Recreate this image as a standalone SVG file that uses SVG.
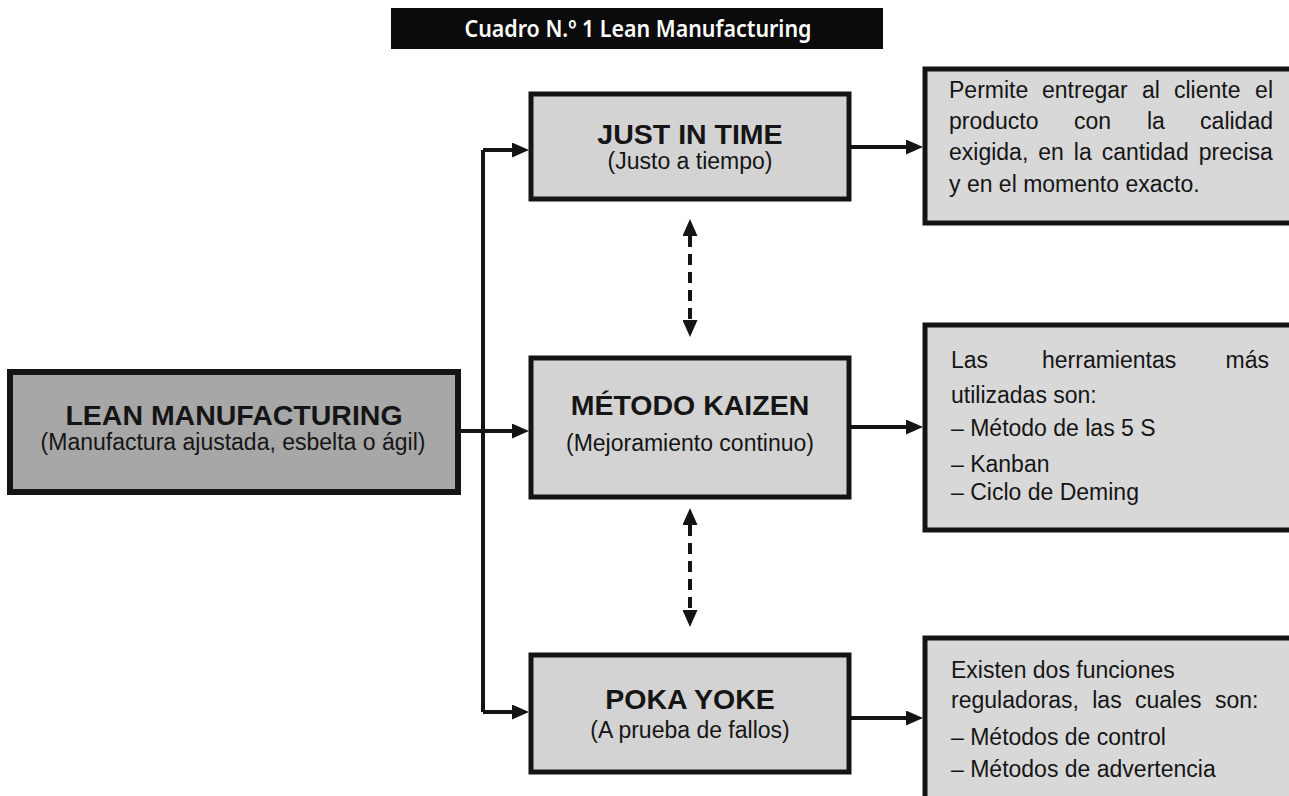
<svg xmlns="http://www.w3.org/2000/svg" width="1289" height="796" viewBox="0 0 1289 796">
  <style>
    .box { fill: #d3d3d3; stroke: #141414; stroke-width: 5; }
    .main { fill: #a7a7a7; stroke: #141414; stroke-width: 6; }
    .note { fill: #d8d8d8; stroke: #141414; stroke-width: 5; }
    .t { font-family: "Liberation Sans", Arial, sans-serif; fill: #151515; }
    .h { font-weight: bold; font-size: 28.5px; text-anchor: middle; }
    .s { font-size: 23px; text-anchor: middle; }
    .p { font-size: 23px; }
    .line { fill: none; stroke: #141414; stroke-width: 4; }
    .dash { fill: none; stroke: #141414; stroke-width: 4; stroke-dasharray: 11 7; }
  </style>
  <defs>
    <marker id="ah" markerUnits="userSpaceOnUse" markerWidth="17" markerHeight="15" refX="0" refY="7.5" orient="auto-start-reverse">
      <path d="M0,0 L17,7.5 L0,15 z" fill="#141414"/>
    </marker>
  </defs>
  <rect width="1289" height="796" fill="#ffffff"/>

  <g id="title">
    <rect x="391" y="8" width="492" height="41" fill="#0b0b0b"/>
    <text x="638" y="37" font-family="'Noto Sans', 'Open Sans', sans-serif" font-weight="600" font-size="24" fill="#ffffff" text-anchor="middle" textLength="347" lengthAdjust="spacingAndGlyphs">Cuadro N.º 1 Lean Manufacturing</text>
  </g>

  <g id="connectors">
    <path class="line" d="M461,431 H483 M483,150 V712"/>
    <path class="line" d="M483,150 H512" marker-end="url(#ah)"/>
    <path class="line" d="M483,431 H512" marker-end="url(#ah)"/>
    <path class="line" d="M483,712 H512" marker-end="url(#ah)"/>
    <path class="line" d="M851,147 H906" marker-end="url(#ah)"/>
    <path class="line" d="M851,427 H906" marker-end="url(#ah)"/>
    <path class="line" d="M851,718 H906" marker-end="url(#ah)"/>
    <path class="dash" d="M690,236 V320" marker-start="url(#ah)" marker-end="url(#ah)"/>
    <path class="dash" d="M690,525 V610" marker-start="url(#ah)" marker-end="url(#ah)"/>
  </g>

  <g id="lean">
    <rect class="main" x="10" y="372" width="448" height="120"/>
    <text class="t h" x="234" y="425">LEAN MANUFACTURING</text>
    <text class="t s" x="233" y="450" font-size="23.6">(Manufactura ajustada, esbelta o ágil)</text>
  </g>

  <g id="jit">
    <rect class="box" x="531" y="94" width="318" height="105"/>
    <text class="t h" x="690" y="144">JUST IN TIME</text>
    <text class="t s" x="690" y="169">(Justo a tiempo)</text>
  </g>

  <g id="kaizen">
    <rect class="box" x="531" y="358" width="318" height="139"/>
    <text class="t h" x="690" y="415">MÉTODO KAIZEN</text>
    <text class="t s" x="690" y="451">(Mejoramiento continuo)</text>
  </g>

  <g id="poka">
    <rect class="box" x="531" y="655" width="318" height="117"/>
    <text class="t h" x="690" y="709">POKA YOKE</text>
    <text class="t s" x="690" y="738">(A prueba de fallos)</text>
  </g>

  <g id="note-jit">
    <rect class="note" x="925" y="69" width="380" height="154"/>
    <text class="t p" y="98"><tspan x="949">Permite</tspan> <tspan x="1042">entregar</tspan> <tspan x="1142">al</tspan> <tspan x="1174">cliente</tspan> <tspan x="1273" text-anchor="end">el</tspan></text>
    <text class="t p" y="129"><tspan x="949">producto</tspan> <tspan x="1074">con</tspan> <tspan x="1147">la</tspan> <tspan x="1273" text-anchor="end">calidad</tspan></text>
    <text class="t p" x="949" y="160" word-spacing="3.6">exigida, en la cantidad precisa</text>
    <text class="t p" x="949" y="192">y en el momento exacto.</text>
  </g>

  <g id="note-kaizen">
    <rect class="note" x="925" y="325" width="380" height="205"/>
    <text class="t p" y="368"><tspan x="951">Las</tspan> <tspan x="1042">herramientas</tspan> <tspan x="1269" text-anchor="end">más</tspan></text>
    <text class="t p" x="951" y="403">utilizadas son:</text>
    <text class="t p" x="951" y="436">– Método de las 5 S</text>
    <text class="t p" x="951" y="472">– Kanban</text>
    <text class="t p" x="951" y="500">– Ciclo de Deming</text>
  </g>

  <g id="note-poka">
    <rect class="note" x="925" y="638" width="380" height="180"/>
    <text class="t p" x="951" y="678">Existen dos funciones</text>
    <text class="t p" x="951" y="708" word-spacing="7">reguladoras, las cuales son:</text>
    <text class="t p" x="951" y="745">– Métodos de control</text>
    <text class="t p" x="951" y="777">– Métodos de advertencia</text>
  </g>
</svg>
